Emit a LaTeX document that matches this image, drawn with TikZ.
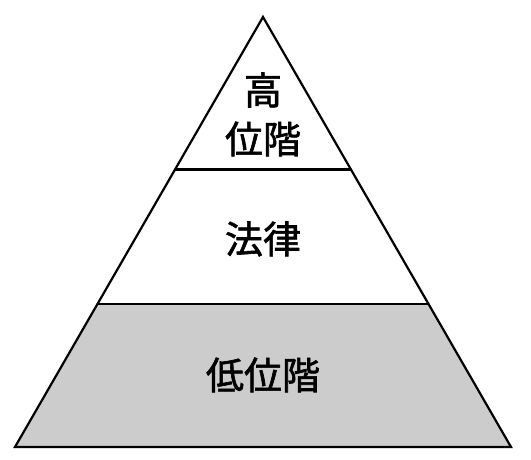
\documentclass[tikz,border=0pt]{standalone}
\usepackage{fontspec}
\newfontfamily\cjk[FakeBold=1.6]{Noto Sans CJK JP}
\definecolor{graybox}{HTML}{CCCCCC}
\begin{document}
\begin{tikzpicture}[x=1pt,y=-1pt,
  edge/.style={line width=2.2pt,line join=miter},
  lbl/.style={font=\cjk\fontsize{38}{46}\selectfont,inner sep=0pt,align=center}]
\useasboundingbox (0,0) rectangle (531,460);
\coordinate (A) at (263,17);
\coordinate (BL) at (15,447);
\coordinate (BR) at (511,447);
\coordinate (L1) at (175,169.5);
\coordinate (R1) at (351,169.5);
\coordinate (L2) at (97.5,304);
\coordinate (R2) at (428.5,304);
\fill[graybox] (L2) -- (R2) -- (BR) -- (BL) -- cycle;
\draw[edge] (L1) -- (R1);
\draw[edge] (L2) -- (R2);
\draw[edge] (A) -- (BR) -- (BL) -- cycle;
\node[lbl] (top) at (263,90) {高};
\node[lbl] (top2) at (263,139) {位階};
\node[lbl] (mid) at (263,239) {法律};
\node[lbl] (bot) at (263,375) {低位階};
\end{tikzpicture}
\end{document}
